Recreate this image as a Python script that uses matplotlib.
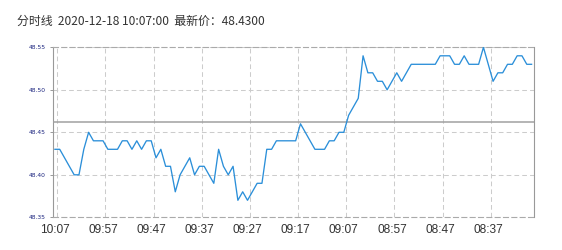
import matplotlib
matplotlib.use('Agg')
import matplotlib.pyplot as plt
from matplotlib.ticker import FixedLocator
import numpy as np

# ---- data (1-minute prices, newest first: 10:07 back to 08:28) ----
prices = [
    48.43, 48.43, 48.42, 48.41, 48.40, 48.40, 48.43, 48.45, 48.44, 48.44,
    48.44, 48.43, 48.43, 48.43, 48.44, 48.44, 48.43, 48.44, 48.43, 48.44,
    48.44, 48.42, 48.43, 48.41, 48.41, 48.38, 48.40, 48.41, 48.42, 48.40,
    48.41, 48.41, 48.40, 48.39, 48.43, 48.41, 48.40, 48.41, 48.37, 48.38,
    48.37, 48.38, 48.39, 48.39, 48.43, 48.43, 48.44, 48.44, 48.44, 48.44,
    48.44, 48.46, 48.45, 48.44, 48.43, 48.43, 48.43, 48.44, 48.44, 48.45,
    48.45, 48.47, 48.48, 48.49, 48.54, 48.52, 48.52, 48.51, 48.51, 48.50,
    48.51, 48.52, 48.51, 48.52, 48.53, 48.53, 48.53, 48.53, 48.53, 48.53,
    48.54, 48.54, 48.54, 48.53, 48.53, 48.54, 48.53, 48.53, 48.53, 48.55,
    48.53, 48.51, 48.52, 48.52, 48.53, 48.53, 48.54, 48.54, 48.53, 48.53,
]
tick_index = [0, 10, 20, 30, 40, 50, 60, 70, 80, 90]
tick_labels = ["10:07", "09:57", "09:47", "09:37", "09:27",
               "09:17", "09:07", "08:57", "08:47", "08:37"]
y_ticks = [48.35, 48.40, 48.45, 48.50, 48.55]
y_tick_labels = ["48.35", "48.40", "48.45", "48.50", "48.55"]
ref_price = 48.462
title_text = "分时线  2020-12-18 10:07:00  最新价：48.4300"

W, H = 562, 250
fig = plt.figure(figsize=(W / 100, H / 100), dpi=100)
L, R, T, B = 52.5, 534.0, 47.3, 217.3
ax = fig.add_axes([L / W, 1 - B / H, (R - L) / W, (B - T) / H])

x = np.arange(len(prices))
ax.plot(x, prices, color='#2b8fd9', lw=0.95, zorder=5)
ax.set_xlim(-0.5, len(prices) - 0.5)
ax.set_ylim(y_ticks[0], y_ticks[-1])

# reference (previous close) line
ax.axhline(ref_price, color='#a0a0a0', lw=1.1, zorder=3)

# x axis: labels on categories, grid on category boundaries
ax.xaxis.set_major_locator(FixedLocator(tick_index))
ax.set_xticklabels(tick_labels)
ax.xaxis.set_minor_locator(FixedLocator([i + 0.5 for i in tick_index]))
ax.tick_params(axis='x', which='both', length=0, pad=4.5,
               labelsize=8.6, labelcolor='#333333')
for lab in ax.get_xticklabels():
    lab.set_family(['Liberation Sans', 'DejaVu Sans'])

ax.set_yticks(y_ticks)
ax.set_yticklabels(y_tick_labels)
ax.tick_params(axis='y', length=2.5, width=0.7, color='#999999', pad=2.5,
               labelsize=4.3, labelcolor='#1a237e')

dash = dict(color='#cccccc', lw=0.75, dashes=(4.5, 3.0))
ax.grid(True, axis='x', which='minor', **dash)
ax.grid(False, axis='x', which='major')
ax.grid(True, axis='y', which='major', **dash)

for side in ['left', 'right']:
    ax.spines[side].set_color('#999999')
    ax.spines[side].set_linewidth(0.8)
for side in ['top', 'bottom']:
    ax.spines[side].set_color('#aaaaaa')
    ax.spines[side].set_linewidth(0.8)
    ax.spines[side].set_linestyle((0, (4.5, 3.0)))

fig.text(17 / W, 1 - 21 / H, title_text, va='center', ha='left',
         fontsize=8.6, color='#333333',
         family=['Noto Sans CJK SC', 'DejaVu Sans'])

fig.savefig('out.png', dpi=100)
